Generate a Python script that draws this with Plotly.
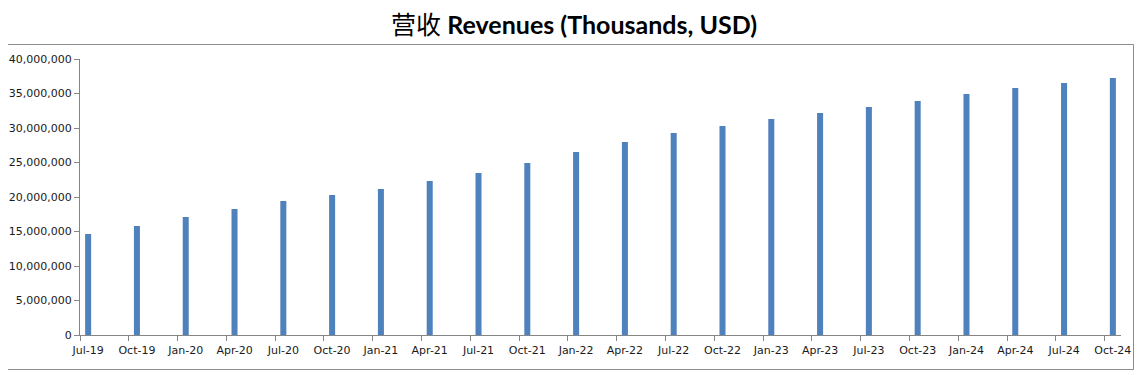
import plotly.graph_objects as go

quarters = ["Jul-19", "Oct-19", "Jan-20", "Apr-20", "Jul-20", "Oct-20", "Jan-21", "Apr-21",
            "Jul-21", "Oct-21", "Jan-22", "Apr-22", "Jul-22", "Oct-22", "Jan-23", "Apr-23",
            "Jul-23", "Oct-23", "Jan-24", "Apr-24", "Jul-24", "Oct-24"]
revenues = [14640000, 15800000, 17100000, 18260000, 19420000, 20290000, 21160000, 22320000,
            23480000, 24930000, 26520000, 27970000, 29280000, 30290000, 31300000, 32170000,
            33040000, 33910000, 34930000, 35800000, 36520000, 37250000]
y_ticks = [0, 5000000, 10000000, 15000000, 20000000, 25000000, 30000000, 35000000, 40000000]

# month index of each quarter (date axis with monthly base unit)
month_idx = [3 * i for i in range(len(quarters))]
bar_x = [m + 0.5 for m in month_idx]
x_range = [0, 3 * len(quarters) - 2]

OFF = 8  # default page body margin
W, H = 1143 - OFF, 375 - OFF
L, R, T, B = 80 - OFF, 22, 59 - OFF, 40
pw, ph = W - L - R, H - T - B

def px_x(p):
    return (p - OFF - L) / pw

def px_y(p):
    return (H - B - (p - OFF)) / ph

fig = go.Figure(go.Bar(
    x=bar_x, y=revenues, width=0.37,
    marker=dict(color="#4F81BD", line=dict(width=0)),
    hoverinfo="skip",
))
# invisible helper trace to activate the tick-mark axis
fig.add_trace(go.Scatter(x=[x_range[0]], y=[0], xaxis="x2", mode="markers",
                         marker=dict(opacity=0), hoverinfo="skip", showlegend=False))

border = dict(color="#8c8c8c", width=1)
bx0, bx1 = px_x(-2), px_x(1133.5)
by0, by1 = px_y(369.5), px_y(44.5)

fig.update_layout(
    width=W, height=H,
    margin=dict(l=L, r=R, t=T, b=B, autoexpand=False),
    paper_bgcolor="white", plot_bgcolor="white",
    showlegend=False,
    title=dict(
        text="营收 <b>Revenues (Thousands, USD)</b>",
        x=(574 - OFF) / W, xanchor="center", xref="container",
        y=1 - (25 - OFF) / H, yanchor="middle", yref="container",
        font=dict(family="Lato, 'Noto Sans CJK SC', sans-serif", size=25, color="black"),
    ),
    font=dict(family="DejaVu Sans, sans-serif", size=11, color="#1a1a1a"),
    xaxis=dict(
        range=x_range, tickmode="array",
        tickvals=bar_x, ticktext=quarters,
        showgrid=False, zeroline=False, automargin=False,
        showline=True, linecolor="#868686", linewidth=1,
        ticks="outside", ticklen=5, tickcolor="rgba(0,0,0,0)", tickwidth=1,
        tickfont=dict(size=11, family="DejaVu Sans, sans-serif"),
        fixedrange=True,
    ),
    xaxis2=dict(
        range=x_range, overlaying="x", side="bottom", anchor="y",
        tickmode="array", tickvals=month_idx, showticklabels=False,
        showgrid=False, zeroline=False, automargin=False, showline=False,
        ticks="outside", ticklen=5, tickcolor="#868686", tickwidth=1,
        fixedrange=True,
    ),
    yaxis=dict(
        range=[0, 40000000], tickmode="array", tickvals=y_ticks,
        tickformat=",d",
        showgrid=False, zeroline=False, automargin=False,
        showline=True, linecolor="#868686", linewidth=1,
        ticks="outside", ticklen=5, tickcolor="#868686", tickwidth=1,
        tickfont=dict(size=11, family="DejaVu Sans, sans-serif"),
        fixedrange=True,
    ),
    shapes=[
        dict(type="line", xref="paper", yref="paper", x0=bx0, x1=bx1, y0=by1, y1=by1,
             line=border, layer="above"),
        dict(type="line", xref="paper", yref="paper", x0=bx0, x1=bx1, y0=by0, y1=by0,
             line=border, layer="above"),
        dict(type="line", xref="paper", yref="paper", x0=bx1, x1=bx1, y0=by0, y1=by1,
             line=border, layer="above"),
    ],
)

fig.write_html("out.html", config={"displayModeBar": False})
